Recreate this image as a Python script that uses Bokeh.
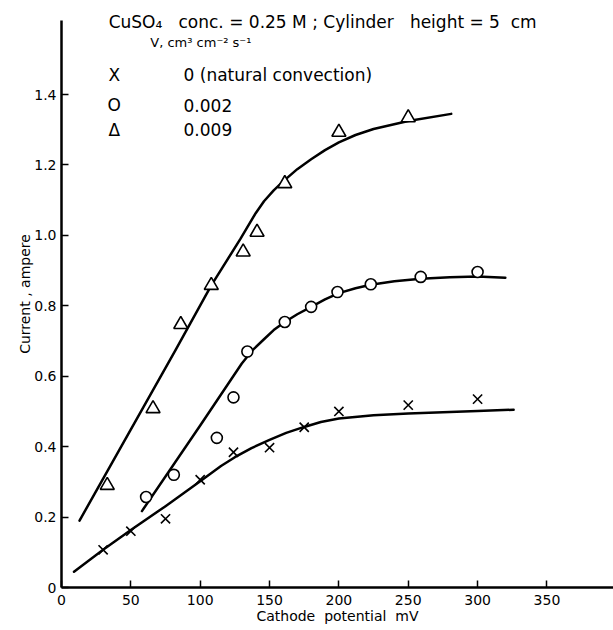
from bokeh.plotting import figure
from bokeh.models import Label, FixedTicker
from bokeh.embed import file_html
from bokeh.resources import INLINE

# ---- data ----
# V = 0 (natural convection): crosses
cross_x = [30, 50, 75, 100, 124, 150, 175, 200, 250, 300]
cross_y = [0.107, 0.160, 0.195, 0.306, 0.384, 0.397, 0.455, 0.500, 0.518, 0.535]
# V = 0.002: circles
circ_x = [61, 81, 112, 124, 134, 161, 180, 199, 223, 259, 300]
circ_y = [0.257, 0.320, 0.425, 0.540, 0.670, 0.754, 0.797, 0.839, 0.861, 0.882, 0.896]
# V = 0.009: triangles
tri_x = [33, 66, 86, 108, 131, 141, 161, 200, 250]
tri_y = [0.290, 0.508, 0.747, 0.858, 0.953, 1.009, 1.147, 1.293, 1.334]

# hand-drawn fitted curves
fit0_x = [9, 30, 50, 75, 100, 115, 125, 137, 150, 162, 175, 187, 200, 225, 250, 275, 300, 326]
fit0_y = [0.045, 0.107, 0.163, 0.231, 0.302, 0.345, 0.370, 0.396, 0.419, 0.439, 0.456, 0.470,
          0.480, 0.489, 0.494, 0.498, 0.501, 0.505]
fit1_x = [58, 100, 130, 138, 146, 153, 161, 170, 180, 190, 200, 212, 223, 240, 259, 280, 300, 320]
fit1_y = [0.217, 0.460, 0.636, 0.675, 0.705, 0.731, 0.754, 0.776, 0.797, 0.818, 0.836, 0.850,
          0.860, 0.870, 0.877, 0.881, 0.883, 0.880]
fit2_x = [13, 82, 108, 129, 140, 146, 153, 160, 170, 180, 190, 200, 212, 225, 250, 281]
fit2_y = [0.190, 0.673, 0.858, 0.990, 1.063, 1.097, 1.128, 1.154, 1.188, 1.216, 1.242, 1.264,
          1.285, 1.302, 1.325, 1.345]

x_ticks = [0, 50, 100, 150, 200, 250, 300, 350]
y_ticks = [0, 0.2, 0.4, 0.6, 0.8, 1.0, 1.2, 1.4]
y_tick_labels = ["0", "0.2", "0.4", "0.6", "0.8", "1.0", "1.2", "1.4"]

NB = "\u00a0"
title_text = ("CuSO\u2084" + NB * 3 + "conc." + NB + "=" + NB + "0.25" + NB + "M" + NB + ";"
              + NB + "Cylinder" + NB * 3 + "height" + NB + "=" + NB + "5" + NB * 2 + "cm")
v_text = "V, cm\u00b3 cm\u207b\u00b2 s\u207b\u00b9"
legend_symbols = ["X", "O", "\u0394"]
legend_values = ["0 (natural convection)", "0.002", "0.009"]
legend_y = [1.455, 1.37, 1.30]
x_label = "Cathode" + NB * 2 + "potential" + NB * 2 + "mV"
y_label = "Current , ampere"

FONT = "DejaVu Sans"

p = figure(width=613, height=630, x_range=(0, 398), y_range=(0, 1.667),
           output_backend="svg", toolbar_location=None,
           min_border_left=61, min_border_right=0, min_border_top=0,
           min_border_bottom=43)
p.grid.visible = False
p.outline_line_color = None
p.background_fill_color = "white"

for ax in (p.xaxis[0], p.yaxis[0]):
    ax.axis_line_width = 2.5
    ax.axis_line_color = "black"
    ax.major_tick_in = 7
    ax.major_tick_out = 0
    ax.major_tick_line_width = 1.5
    ax.minor_tick_line_color = None
    ax.major_label_text_font = FONT
    ax.major_label_text_font_size = "14px"
    ax.major_label_text_color = "black"
    ax.axis_label_text_font = FONT
    ax.axis_label_text_font_size = "14px"
    ax.axis_label_text_font_style = "normal"
    ax.axis_label_text_color = "black"

p.yaxis.bounds = (0, 1.61)
p.xaxis.ticker = FixedTicker(ticks=x_ticks)
p.yaxis.ticker = FixedTicker(ticks=y_ticks)
p.yaxis.major_label_overrides = {t: l for t, l in zip(y_ticks, y_tick_labels)}
p.xaxis.axis_label = x_label
p.yaxis.axis_label = y_label
p.xaxis.major_label_standoff = 7
p.xaxis.axis_label_standoff = 0
p.yaxis.major_label_standoff = 5
p.yaxis.axis_label_standoff = -2

# curves
for fx, fy in ((fit0_x, fit0_y), (fit1_x, fit1_y), (fit2_x, fit2_y)):
    p.line(fx, fy, line_color="black", line_width=2.5, line_join="round", line_cap="round")

# markers
p.scatter(cross_x, cross_y, marker="x", size=13, line_color="black", line_width=1.6)
p.scatter(circ_x, circ_y, marker="circle", size=11, line_color="black",
          fill_color="white", line_width=1.6)
p.scatter(tri_x, tri_y, marker="triangle", size=14, line_color="black",
          fill_color="white", line_width=1.6)

# annotation texts
p.add_layout(Label(x=34, y=1.605, text=title_text, text_font=FONT, text_font_size="17px",
                   text_baseline="middle", text_align="left", text_color="black"))
p.add_layout(Label(x=64, y=1.548, text=v_text, text_font=FONT, text_font_size="13px",
                   text_baseline="middle", text_align="left", text_color="black"))
for s, v, yy in zip(legend_symbols, legend_values, legend_y):
    p.add_layout(Label(x=38, y=yy, text=s, text_font=FONT, text_font_size="17px",
                       text_baseline="middle", text_align="center", text_color="black"))
    p.add_layout(Label(x=88, y=yy, text=v, text_font=FONT, text_font_size="17px",
                       text_baseline="middle", text_align="left", text_color="black"))

open("out.html", "w").write(file_html(p, INLINE))
